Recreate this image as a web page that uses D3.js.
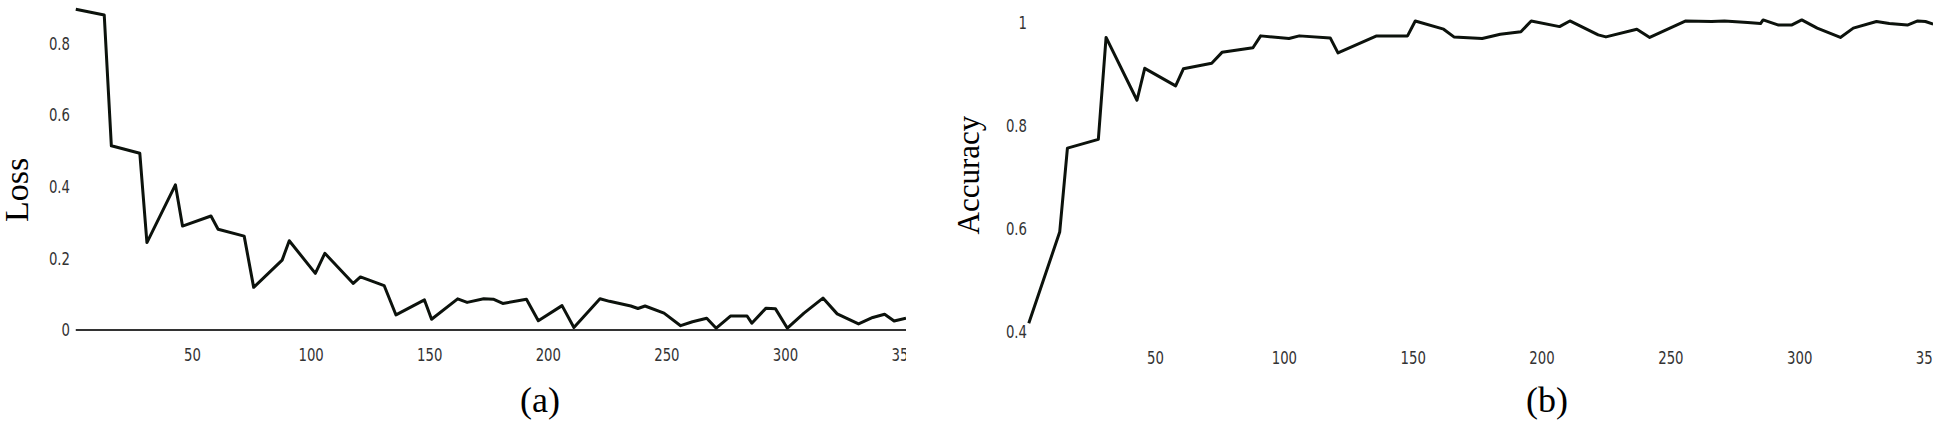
<!DOCTYPE html>
<html>
<head>
<meta charset="utf-8">
<script src="https://cdn.jsdelivr.net/npm/d3@7"></script>
<style>
  body { margin: 0; background: #fff; }
  svg { display: block; }
  .tick text { font-family: "Liberation Sans Narrow", "DejaVu Sans Condensed", sans-serif; font-stretch: condensed; fill: #333; }
  .lbl { font-family: "Liberation Serif", "Times New Roman", serif; fill: #000; }
</style>
</head>
<body>
<div id="chart"></div>
<script>
// training loss
var lossEpoch = [1, 13, 16, 28, 31, 43, 46, 58, 61, 72, 76, 88, 91, 102, 106, 118, 121, 131, 136, 148,
  151, 162, 166, 173, 177, 181, 191, 196, 206, 211, 222, 226, 235, 238, 241, 249, 256, 261, 267, 271,
  277, 284, 286, 292, 296, 301, 308, 316, 322, 331, 337, 342, 346, 351];
var lossValue = [0.895, 0.879, 0.514, 0.493, 0.244, 0.405, 0.290, 0.318, 0.281, 0.262, 0.119, 0.195, 0.249, 0.158, 0.214, 0.130, 0.148, 0.124, 0.042, 0.084,
  0.030, 0.087, 0.077, 0.087, 0.086, 0.074, 0.086, 0.026, 0.068, 0.007, 0.087, 0.080, 0.067, 0.060, 0.067, 0.047, 0.012, 0.023, 0.033, 0.005,
  0.039, 0.039, 0.019, 0.061, 0.059, 0.005, 0.047, 0.089, 0.045, 0.017, 0.035, 0.044, 0.025, 0.033];

// training accuracy, panel (b)
var accEpoch = [1, 13, 16, 28, 31, 43, 46, 58, 61, 72, 76, 88, 91, 102, 106, 118, 121, 136, 148, 151,
  162, 166, 177, 184, 192, 196, 207, 211, 222, 225, 237, 242, 256, 266, 271, 280, 285, 286, 292, 297,
  301, 307, 316, 321, 330, 335, 342, 346, 349, 352];
var accValue = [0.417, 0.594, 0.757, 0.774, 0.972, 0.850, 0.912, 0.878, 0.911, 0.922, 0.943, 0.952, 0.975, 0.970, 0.975, 0.971, 0.942, 0.975, 0.975, 1.004,
  0.988, 0.973, 0.970, 0.978, 0.983, 1.004, 0.993, 1.004, 0.977, 0.973, 0.988, 0.972, 1.004, 1.003, 1.004, 1.001, 0.999, 1.006, 0.996, 0.996,
  1.006, 0.990, 0.972, 0.990, 1.003, 0.999, 0.996, 1.004, 1.003, 0.998];

var xTicks = [50, 100, 150, 200, 250, 300, 350];
var lossTicks = [0, 0.2, 0.4, 0.6, 0.8];
var accTicks = [0.4, 0.6, 0.8, 1];

var W = 1937, H = 426;

var svg = d3.select('#chart').append('svg')
  .attr('width', W)
  .attr('height', H);

var defs = svg.append('defs');

function tickFmt(d) {
  return d === 0 ? '0' : d === 1 ? '1' : d3.format('.1f')(d);
}

function panel(opt) {
  defs.append('clipPath').attr('id', opt.id + '-clip')
    .append('rect')
    .attr('x', opt.left - 80).attr('y', 0)
    .attr('width', opt.clipRight - opt.left + 80).attr('height', H);

  var x = d3.scaleLinear().domain([0, 350]).range([opt.x0, opt.x350]);
  var y = d3.scaleLinear().domain(opt.yDomain).range(opt.yRange);

  var g = svg.append('g').attr('clip-path', 'url(#' + opt.id + '-clip)');

  // x tick labels (narrow, like the original screenshot font)
  var gx = g.append('g')
    .attr('transform', 'translate(0,' + opt.xLabelY + ')')
    .call(d3.axisBottom(x).tickValues(xTicks).tickSize(0).tickPadding(0));
  gx.select('.domain').remove();
  gx.selectAll('text')
    .attr('y', 0).attr('dy', '0.35em')
    .style('font-size', '18px')
    .attr('transform', 'scale(0.82,1)');

  // y tick labels
  var gy = g.append('g')
    .attr('transform', 'translate(' + opt.yLabelX + ',0)')
    .call(d3.axisLeft(y).tickValues(opt.yTicks).tickFormat(tickFmt).tickSize(0).tickPadding(0));
  gy.select('.domain').remove();
  gy.selectAll('.tick text')
    .style('font-size', '18px')
    .attr('x', 0)
    .attr('transform', 'scale(0.82,1)');

  if (opt.baseline) {
    g.append('line')
      .attr('x1', x(opt.epoch[0])).attr('x2', opt.clipRight)
      .attr('y1', y(0)).attr('y2', y(0))
      .attr('stroke', '#333').attr('stroke-width', 2);
  }

  var line = d3.line()
    .x(function(d, i) { return x(opt.epoch[i]); })
    .y(function(d) { return y(d); });

  g.append('path')
    .datum(opt.values)
    .attr('d', line)
    .attr('fill', 'none')
    .attr('stroke', '#0c120c')
    .attr('stroke-width', 3)
    .attr('stroke-linejoin', 'round');

  // axis title
  svg.append('text')
    .attr('class', 'lbl')
    .attr('transform', 'translate(' + opt.titleX + ',' + opt.titleY + ') rotate(-90)')
    .attr('text-anchor', 'middle')
    .style('font-size', opt.titleSize + 'px')
    .text(opt.title);

  // caption
  svg.append('text')
    .attr('class', 'lbl')
    .attr('x', opt.capX).attr('y', 412)
    .attr('text-anchor', 'middle')
    .style('font-size', '36px')
    .text(opt.caption);
}

panel({
  id: 'loss', left: 76, clipRight: 906,
  x0: 73.4, x350: 903.6,
  yDomain: [0, 0.8], yRange: [330, 43.3],
  yTicks: lossTicks, yLabelX: 70, xLabelY: 355,
  epoch: lossEpoch, values: lossValue, baseline: true,
  title: 'Loss', titleX: 28, titleY: 190, titleSize: 34,
  caption: '(a)', capX: 540
});

panel({
  id: 'acc', left: 1029, clipRight: 1933,
  x0: 1026.2, x350: 1928,
  yDomain: [0.4, 1], yRange: [332, 23],
  yTicks: accTicks, yLabelX: 1027, xLabelY: 358,
  epoch: accEpoch, values: accValue, baseline: false,
  title: 'Accuracy', titleX: 979, titleY: 175, titleSize: 31,
  caption: '(b)', capX: 1547
});
</script>
</body>
</html>
